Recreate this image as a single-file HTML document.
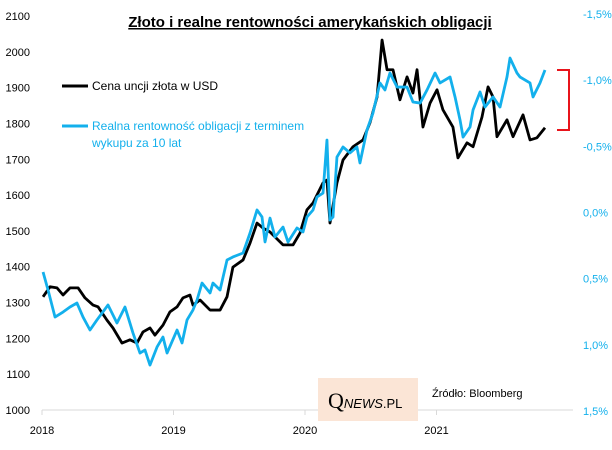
<!DOCTYPE html>
<html><head><meta charset="utf-8"><style>
body{margin:0;background:#fff;}
svg{display:block;font-family:"Liberation Sans",sans-serif;}
</style></head><body>
<svg id="chart" width="612" height="450" viewBox="0 0 612 450">
<text x="310" y="27" text-anchor="middle" font-size="15" font-weight="bold" text-decoration="underline">Złoto i realne rentowności amerykańskich obligacji</text>
<g id="axes"></g>
<g id="series"></g>
<g>
<line x1="62" y1="86" x2="88" y2="86" stroke="#000" stroke-width="3"/>
<text x="92" y="90" font-size="12">Cena uncji złota w USD</text>
<line x1="62" y1="126" x2="88" y2="126" stroke="#13b0ec" stroke-width="3"/>
<text x="92" y="130" font-size="12" fill="#13b0ec"><tspan x="92">Realna rentowność obligacji z terminem</tspan><tspan x="92" dy="17">wykupu za 10 lat</tspan></text>
</g>
<path d="M557 70 H569 V130 H557" fill="none" stroke="#e8141b" stroke-width="2"/>
<rect x="318" y="378" width="100" height="43" fill="#fbe5d6"/>
<text x="328" y="408" font-size="13"><tspan font-family="Liberation Serif,serif" font-size="22">Q</tspan><tspan font-style="italic">NEWS</tspan><tspan>.PL</tspan></text>
<text x="432" y="397" font-size="11">Źródło: Bloomberg</text>
</svg>
<script>
const goldDates=[0.008,0.061,0.114,0.160,0.213,0.274,0.327,0.388,0.426,0.494,0.540,0.608,0.669,0.722,0.768,0.821,0.859,0.920,0.973,1.027,1.072,1.125,1.148,1.202,1.278,1.354,1.407,1.452,1.529,1.582,1.635,1.681,1.734,1.833,1.909,1.962,2.015,2.061,2.137,2.167,2.190,2.243,2.289,2.365,2.441,2.494,2.548,2.586,2.624,2.669,2.722,2.776,2.821,2.852,2.897,2.951,3.004,3.049,3.125,3.163,3.232,3.278,3.346,3.392,3.430,3.460,3.536,3.582,3.658,3.711,3.764,3.825];
const goldValues=[1316,1344,1341,1321,1341,1341,1313,1293,1288,1251,1229,1187,1196,1187,1218,1229,1209,1237,1274,1288,1313,1321,1293,1307,1279,1279,1316,1399,1419,1466,1522,1508,1497,1461,1461,1494,1559,1578,1634,1642,1522,1634,1698,1735,1754,1802,1874,2033,1950,1950,1866,1930,1885,1950,1790,1857,1894,1838,1790,1704,1746,1735,1818,1902,1874,1763,1810,1763,1824,1754,1760,1788];
const yieldDates=[0.008,0.046,0.099,0.160,0.213,0.266,0.312,0.365,0.418,0.502,0.570,0.631,0.692,0.745,0.783,0.821,0.875,0.920,0.951,1.027,1.065,1.103,1.148,1.179,1.217,1.278,1.300,1.354,1.407,1.452,1.529,1.582,1.635,1.673,1.696,1.734,1.772,1.833,1.871,1.939,1.985,2.015,2.061,2.091,2.137,2.167,2.190,2.213,2.243,2.289,2.342,2.395,2.418,2.471,2.517,2.570,2.608,2.646,2.700,2.776,2.821,2.875,2.928,2.989,3.027,3.103,3.141,3.179,3.202,3.255,3.278,3.331,3.369,3.430,3.483,3.536,3.559,3.612,3.635,3.711,3.734,3.787,3.825];
const yieldValues=[0.45,0.586,0.79,0.752,0.714,0.684,0.79,0.888,0.812,0.699,0.835,0.714,0.911,1.062,1.039,1.153,1.016,0.941,1.062,0.888,0.986,0.812,0.737,0.661,0.533,0.608,0.533,0.586,0.359,0.336,0.306,0.155,-0.019,0.034,0.223,0.042,0.185,0.110,0.223,0.117,0.147,0.034,-0.019,-0.117,-0.147,-0.548,0.057,0.034,-0.419,-0.495,-0.450,-0.495,-0.374,-0.623,-0.752,-0.979,-0.926,-1.054,-0.948,-0.948,-0.835,-0.827,-0.926,-1.054,-0.979,-1.024,-0.873,-0.699,-0.570,-0.646,-0.775,-0.911,-0.797,-0.873,-0.797,-1.024,-1.167,-1.054,-1.024,-0.979,-0.873,-0.979,-1.077];
const leftTicks=[1000,1100,1200,1300,1400,1500,1600,1700,1800,1900,2000,2100];
const rightTicks=[-1.5,-1.0,-0.5,0.0,0.5,1.0,1.5];
const yearTicks=[2018,2019,2020,2021];

const NS="http://www.w3.org/2000/svg";
const xS=t=>42+t*131.5;
const yL=v=>410-(v-1000)*(394/1100);
const yR=v=>14+(v+1.5)*(397/3);
function mk(tag,attrs,parent){const e=document.createElementNS(NS,tag);for(const k in attrs)e.setAttribute(k,attrs[k]);parent.appendChild(e);return e;}
const axes=document.getElementById('axes'),series=document.getElementById('series');
const base=mk('line',{x1:42,y1:410,x2:573,y2:410,stroke:'#d9d9d9','stroke-width':1},axes);


leftTicks.forEach(v=>{const t=mk('text',{x:30,y:yL(v)+4,'text-anchor':'end','font-size':11},axes);t.textContent=v;

});
rightTicks.forEach(v=>{const t=mk('text',{x:583,y:yR(v)+4,'font-size':11,fill:'#13b0ec'},axes);t.textContent=(v<0?'-':'')+Math.abs(v).toFixed(1).replace('.',',')+'%';

});
yearTicks.forEach(y=>{const x=xS(y-2018);const tk=mk('line',{x1:x,y1:410,x2:x,y2:415,stroke:'#d9d9d9'},axes);


const t=mk('text',{x:x,y:434,'text-anchor':'middle','font-size':11},axes);t.textContent=y;

});
const yp=mk('polyline',{points:yieldDates.map((d,i)=>xS(d)+','+yR(yieldValues[i])).join(' '),fill:'none',stroke:'#13b0ec','stroke-width':2.8,'stroke-linejoin':'round'},series);


const gp=mk('polyline',{points:goldDates.map((d,i)=>xS(d)+','+yL(goldValues[i])).join(' '),fill:'none',stroke:'#000','stroke-width':2.8,'stroke-linejoin':'round'},series);


series.appendChild(yp);
</script>
</body></html>
